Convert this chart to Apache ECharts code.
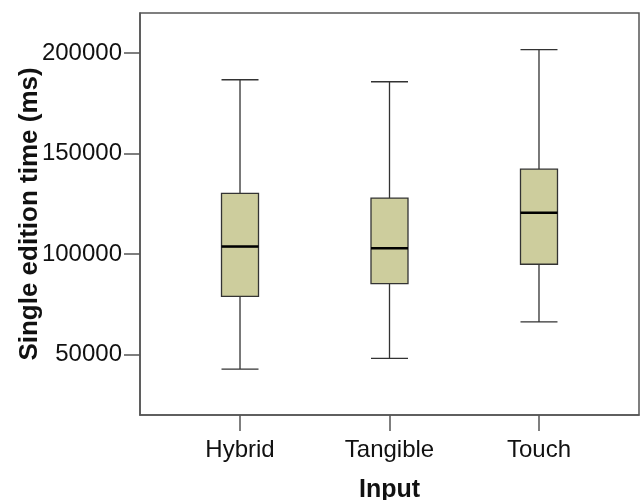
<!DOCTYPE html>
<html>
<head>
<meta charset="utf-8">
<script src="https://cdn.jsdelivr.net/npm/echarts@6/dist/echarts.min.js"></script>
<style>
html,body{margin:0;padding:0;background:#fff;}
#chart{width:640px;height:500px;}
</style>
</head>
<body>
<div id="chart"></div>
<script>
var categories = ['Hybrid', 'Tangible', 'Touch'];
var whiskerLow = [42800, 48200, 66300];
var q1 = [79000, 85400, 95000];
var medians = [103800, 103000, 120600];
var q3 = [130300, 127900, 142300];
var whiskerHigh = [186800, 185800, 201800];
var yTicks = [50000, 100000, 150000, 200000];

var boxData = categories.map(function (c, i) {
  return [i, whiskerLow[i], q1[i], medians[i], q3[i], whiskerHigh[i]];
});
var medianData = categories.map(function (c, i) { return [i, medians[i]]; });

var BOX_W = 37;
var font = 'Liberation Sans, Arial, sans-serif';
var chart = echarts.init(document.getElementById('chart'), null, {renderer: 'canvas'});
chart.setOption({
  animation: false,
  grid: {left: 140, top: 13, right: 1, bottom: 85, show: true, borderColor: '#555', borderWidth: 1.5,
    backgroundColor: '#fff', containLabel: false, outerBoundsMode: 'none'},
  xAxis: {
    type: 'value', min: -0.669, max: 2.669,
    name: 'Input', nameLocation: 'middle', nameGap: 63, nameMoveOverlap: false,
    nameTextStyle: {fontFamily: font, fontSize: 25, fontWeight: 'bold', color: '#111'},
    axisLine: {show: true, onZero: false, lineStyle: {color: '#555', width: 1.5}},
    axisTick: {show: true, length: 16, customValues: [0, 1, 2], lineStyle: {color: '#555', width: 1.5}},
    axisLabel: {customValues: [0, 1, 2], margin: 23, fontFamily: font, fontSize: 24, color: '#111',
      formatter: function (v) { return categories[Math.round(v)]; }},
    splitLine: {show: false}
  },
  yAxis: {
    type: 'value', min: 20000, max: 220000,
    name: 'Single edition time (ms)', nameLocation: 'middle', nameGap: 97, nameMoveOverlap: false,
    nameTextStyle: {fontFamily: font, fontSize: 26, fontWeight: 'bold', color: '#111'},
    axisLine: {show: true, onZero: false, lineStyle: {color: '#555', width: 1.5}},
    axisTick: {show: true, length: 16, customValues: yTicks, lineStyle: {color: '#555', width: 1.5}},
    axisLabel: {customValues: yTicks, margin: 18, fontFamily: font, fontSize: 24, color: '#111',
      formatter: function (v) { return String(v); }},
    splitLine: {show: false}
  },
  series: [
    {
      type: 'boxplot',
      data: boxData,
      boxWidth: [BOX_W, BOX_W],
      itemStyle: {color: '#cdcd9d', borderColor: '#333', borderWidth: 1.3},
      emphasis: {disabled: true}
    },
    {
      type: 'custom',
      data: medianData,
      encode: {x: 0, y: 1},
      renderItem: function (params, api) {
        var p = api.coord([api.value(0), api.value(1)]);
        return {
          type: 'line',
          shape: {x1: p[0] - BOX_W / 2, y1: p[1], x2: p[0] + BOX_W / 2, y2: p[1]},
          style: {stroke: '#000', lineWidth: 2.5}
        };
      },
      z: 5
    }
  ]
});
</script>
</body>
</html>
